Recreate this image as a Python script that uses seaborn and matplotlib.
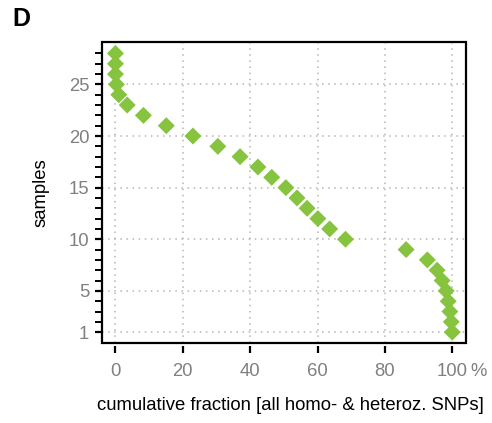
import matplotlib
matplotlib.use("Agg")
import matplotlib.pyplot as plt
import matplotlib.patches as mpatches
import seaborn as sns
import pandas as pd

samples = list(range(28, 0, -1))
cum_fraction = [0.0, 0.0, 0.0, 0.3, 1.0, 3.5, 8.3, 15.1, 23.0, 30.4, 37.0, 42.3,
                46.4, 50.6, 53.9, 56.9, 60.1, 63.6, 68.3, 86.3, 92.6, 95.5, 97.0,
                98.2, 98.8, 99.3, 99.7, 100.0]
x_ticks = [0, 20, 40, 60, 80, 100]
y_major = [1, 5, 10, 15, 20, 25]

df = pd.DataFrame({"fraction": cum_fraction, "samples": samples})

sns.set_style("white")
plt.rcParams['font.family'] = ['Liberation Sans', 'DejaVu Sans']
plt.rcParams['text.color'] = 'black'

fig = plt.figure(figsize=(4.92, 4.23), dpi=100)
ax = fig.add_axes([0.2073, 0.1884, 0.9466 - 0.2073, 0.9 - 0.1884])

sns.scatterplot(data=df, x="fraction", y="samples", marker="D", s=75,
                color="#86C440", edgecolor="none", ax=ax, zorder=3, legend=False)

ax.set_xlim(-4, 104)
ax.set_ylim(-0.08, 29.08)
ax.set_xticks(x_ticks)
ax.set_xticklabels([str(v) for v in x_ticks])
ax.set_yticks(y_major)
ax.set_yticklabels([str(v) for v in y_major])
ax.set_yticks(list(range(1, 29)), minor=True)

for v in x_ticks:
    ax.axvline(v, color="#b5b5b5", lw=1.1, ls=(0, (1, 3)), zorder=1)
for v in y_major:
    ax.axhline(v, color="#b5b5b5", lw=1.1, ls=(0, (1, 3)), zorder=1)

for s in ax.spines.values():
    s.set_visible(False)
ax.spines['bottom'].set_position(('outward', 2.2))
ax.add_patch(mpatches.Rectangle((0, 0), 1, 1, transform=ax.transAxes, fill=False,
                                edgecolor="black", lw=1.6, clip_on=False, zorder=5))

ax.tick_params(axis='x', direction='out', length=5.2, width=1.6, color='black',
               labelsize=13.3, labelcolor='#808080', pad=7, bottom=True)
ax.tick_params(axis='y', which='both', direction='out', length=5.2, width=1.6,
               color='black', labelsize=13.3, labelcolor='#808080', pad=4, left=True)
ax.tick_params(axis='y', which='minor', length=5.2, width=1.4)

ax.set_xlabel("cumulative fraction [all homo- & heteroz. SNPs]", fontsize=13.3,
              color='black', labelpad=12)
ax.xaxis.label.set_x(0.5 + 7 / 364)
ax.set_ylabel("samples", fontsize=13.3, color='black', labelpad=14)

fig.text(0.025, 0.955, "D", fontsize=18, fontweight='bold', color='black',
         ha='left', va='center')

fig.canvas.draw()
lbl = ax.get_xticklabels()[-1]
bb = lbl.get_window_extent(renderer=fig.canvas.get_renderer())
fig.text(bb.x1 + 3, bb.y0, '%', transform=None, ha='left', va='bottom',
         fontsize=13.3, color='#808080')

fig.savefig("out.png", dpi=100)
